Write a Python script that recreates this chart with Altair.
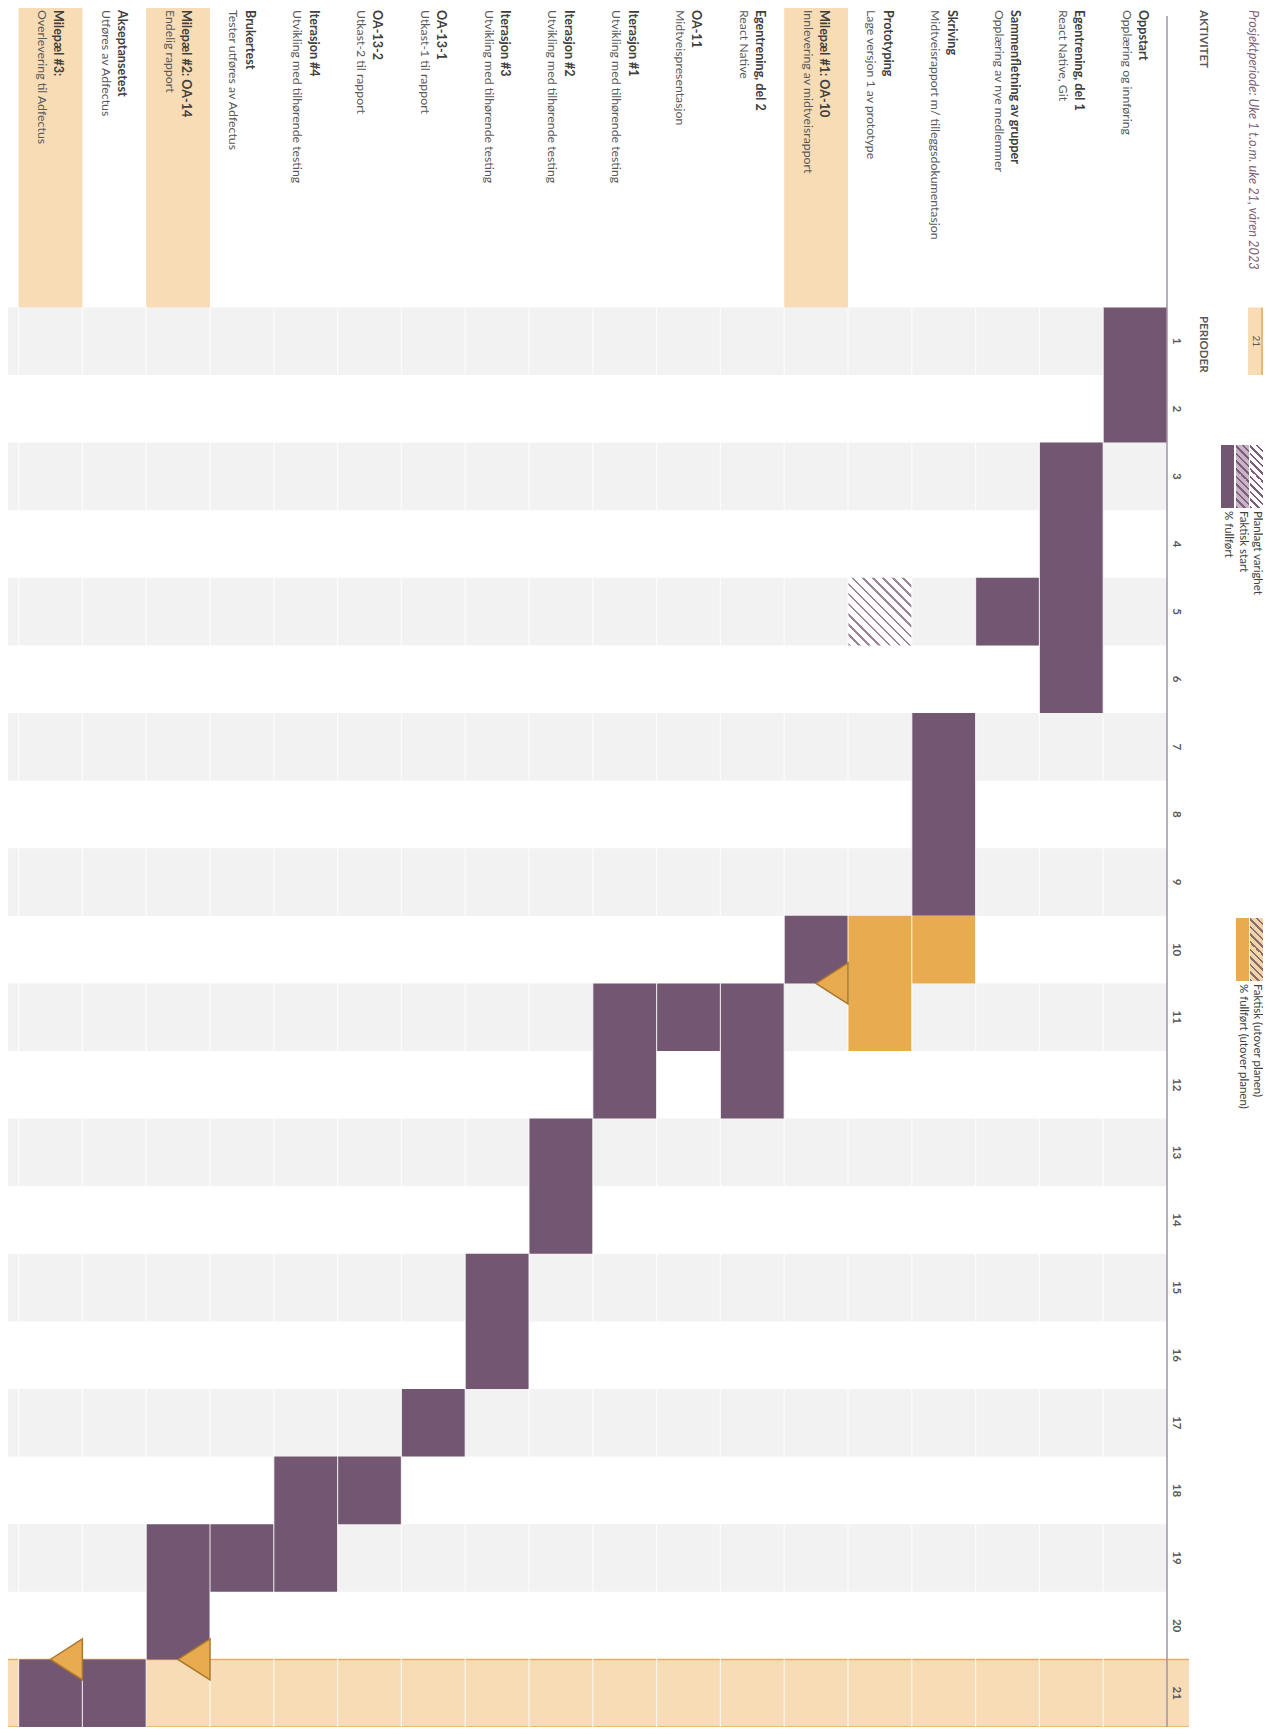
import altair as alt
import pandas as pd

# ---------------- data ----------------
activities = ["Oppstart", "Egentrening, del 1", "Sammenfletning av grupper", "Skriving", "Prototyping",
              "Milepæl #1: OA-10", "Egentrening, del 2", "OA-11", "Iterasjon #1", "Iterasjon #2",
              "Iterasjon #3", "OA-13-1", "OA-13-2", "Iterasjon #4", "Brukertest", "Milepæl #2: OA-14",
              "Akseptansetest", "Milepæl #3:"]
descriptions = ["Opplæring og innføring", "React Native, Git", "Opplæring av nye medlemmer",
                "Midtveisrapport m/ tilleggsdokumentasjon", "Lage versjon 1 av prototype",
                "Innlevering av midtveisrapport", "React Native", "Midtveispresentasjon",
                "Utvikling med tilhørende testing", "Utvikling med tilhørende testing",
                "Utvikling med tilhørende testing", "Utkast-1 til rapport", "Utkast-2 til rapport",
                "Utvikling med tilhørende testing", "Tester utføres av Adfectus", "Endelig rapport",
                "Utføres av Adfectus", "Overlevering til Adfectus"]
done_start = [1, 3, 5, 7, 0, 10, 11, 11, 11, 13, 15, 17, 18, 18, 19, 19, 21, 21]
done_length = [2, 4, 1, 3, 0, 1, 2, 1, 2, 2, 2, 1, 1, 2, 1, 2, 1, 1]
planned_activity = ["Prototyping"]
planned_start = [5]
planned_length = [1]
extra_activity = ["Skriving", "Prototyping"]
extra_start = [10, 10]
extra_length = [1, 2]
milestones = ["Milepæl #1: OA-10", "Milepæl #2: OA-14", "Milepæl #3:"]
milestone_marker = [10, 20, 20]
periods = list(range(1, 22))
current_period = 21
title_text = "Prosjektperiode: Uke 1 t.o.m. uke 21, våren 2023"
legend_main = ["Planlagt varighet", "Faktisk start", "% fullført"]
legend_extra = ["Faktisk (utover planen)", "% fullført (utover planen)"]

# ---------------- layout ----------------
W, H = 1255, 1719
COLW = 63.8
ROWH = 67.6
X0 = 1159
Y0 = H - 21 * ROWH
x_dom = [-(W - X0) / COLW, X0 / COLW]
y_dom = [-Y0 / ROWH, 21]
xs = alt.Scale(domain=x_dom, reverse=True, nice=False, zero=False)
ys = alt.Scale(domain=y_dom, reverse=True, nice=False, zero=False)
FONT = "Lato"

PURPLE = "#735671"
ORANGE = "#e9ab4f"
PEACH = "#f8dcb6"
GRAY = "#f2f2f2"


def X(f):
    return alt.X(f, type="quantitative", scale=xs, axis=None)


def Y(f):
    return alt.Y(f, type="quantitative", scale=ys, axis=None)


def hatch(w, h, bg, fg, spacing=7.0, frac=0.33):
    a = w / h
    s = (a + 1) / (a * a + 1)
    n = max(2, int(round((w + h) / 1.4142 / spacing)))
    stops = []
    for k in range(n):
        o0, om, o1 = k / n, (k + frac) / n, (k + 1) / n
        stops += [{"offset": o0, "color": fg}, {"offset": om, "color": fg},
                  {"offset": om, "color": bg}, {"offset": o1, "color": bg}]
    return {"gradient": "linear", "x1": 0, "y1": 1, "x2": s * a, "y2": 1 - s, "stops": stops}


idx = {a: i for i, a in enumerate(activities)}

bands = pd.DataFrame({"u0": [p - 1 for p in periods if p % 2 == 1 and p != current_period],
                      "u1": [p for p in periods if p % 2 == 1 and p != current_period]})
bands["c0"] = 0.0
bands["c1"] = x_dom[1]
layer_bands = alt.Chart(bands).mark_rect(color=GRAY).encode(x=X("c0"), x2="c1", y=Y("u0"), y2="u1")

cur = pd.DataFrame({"u0": [current_period - 1], "u1": [current_period],
                    "c0": [-(22 / COLW)], "c1": [x_dom[1]]})
layer_cur = alt.Chart(cur).mark_rect(color=PEACH).encode(x=X("c0"), x2="c1", y=Y("u0"), y2="u1")
cur_lines = pd.DataFrame({"u": [current_period - 1, current_period], "c0": [-(22 / COLW)] * 2,
                          "c1": [x_dom[1]] * 2})
layer_cur_lines = alt.Chart(cur_lines).mark_rule(color="#e5ad62", strokeWidth=1.5).encode(
    x=X("c0"), x2="c1", y=Y("u"))

ms = pd.DataFrame({"c0": [idx[m] for m in milestones], "c1": [idx[m] + 1 for m in milestones]})
layer_ms_head = alt.Chart(ms).mark_rect(color=PEACH).encode(
    x=X("c0"), x2="c1", y=alt.value(0), y2=alt.value(Y0))

planned = pd.DataFrame({"c0": [idx[a] for a in planned_activity], "c1": [idx[a] + 1 for a in planned_activity],
                        "u0": [s - 1 for s in planned_start],
                        "u1": [s - 1 + l for s, l in zip(planned_start, planned_length)]})
layer_planned = alt.Chart(planned).mark_rect(
    fill=hatch(COLW, ROWH, "#ffffff", "#9c849a", spacing=7.0, frac=0.26)).encode(
    x=X("c0"), x2="c1", y=Y("u0"), y2="u1")

done = pd.DataFrame({"c0": [i for i in range(len(activities)) if done_length[i] > 0],
                     "c1": [i + 1 for i in range(len(activities)) if done_length[i] > 0],
                     "u0": [done_start[i] - 1 for i in range(len(activities)) if done_length[i] > 0],
                     "u1": [done_start[i] - 1 + done_length[i] for i in range(len(activities)) if done_length[i] > 0]})
layer_done = alt.Chart(done).mark_rect(color=PURPLE).encode(x=X("c0"), x2="c1", y=Y("u0"), y2="u1")

extra = pd.DataFrame({"c0": [idx[a] for a in extra_activity], "c1": [idx[a] + 1 for a in extra_activity],
                      "u0": [s - 1 for s in extra_start],
                      "u1": [s - 1 + l for s, l in zip(extra_start, extra_length)]})
layer_extra = alt.Chart(extra).mark_rect(color=ORANGE).encode(x=X("c0"), x2="c1", y=Y("u0"), y2="u1")

seps = pd.DataFrame({"c": list(range(1, len(activities) + 1)), "u0": [0] * len(activities),
                     "u1": [21] * len(activities)})
layer_seps = alt.Chart(seps).mark_rule(color="#ffffff", strokeWidth=1.2, opacity=0.75).encode(
    x=X("c"), y=Y("u0"), y2="u1")

axis_df = pd.DataFrame({"c": [0]})
layer_axis = alt.Chart(axis_df).mark_rule(color="#a393a2", strokeWidth=1.5).encode(
    x=X("c"), y=alt.value(8), y2=alt.value(H))

tri = pd.DataFrame({"c": [idx[m] for m in milestones], "u": milestone_marker})
layer_tri = alt.Chart(tri).mark_point(shape="M0,-2.05L-3.2,0L0,2.05Z", size=400, filled=True, fill=ORANGE,
                                      stroke="#a8792f", strokeWidth=1.5, opacity=1).encode(
    x=X("c"), y=Y("u"))

titles = pd.DataFrame({"c": [i + 24 / COLW for i in range(len(activities))], "t": activities})
layer_titles = alt.Chart(titles).mark_text(angle=90, align="left", baseline="middle", font=FONT,
                                           fontSize=12.6, fontWeight="bold", color="#404040").encode(
    x=X("c"), y=alt.value(2), text="t:N")
subs = pd.DataFrame({"c": [i + 40.5 / COLW for i in range(len(activities))], "t": descriptions})
layer_subs = alt.Chart(subs).mark_text(angle=90, align="left", baseline="middle", font=FONT,
                                       fontSize=12.3, color="#595959").encode(
    x=X("c"), y=alt.value(2), text="t:N")

per = pd.DataFrame({"u": [p - 0.5 for p in periods], "t": [str(p) for p in periods]})
layer_per = alt.Chart(per).mark_text(angle=90, align="center", baseline="middle", font=FONT,
                                     fontSize=11.5, fontWeight="bold", color="#595959").encode(
    x=alt.value(1168), y=Y("u"), text="t:N")

hdr = pd.DataFrame({"t": ["AKTIVITET", "PERIODER"], "py": [2, 308]})
layer_hdr = alt.Chart(hdr).mark_text(angle=90, align="left", baseline="middle", font=FONT,
                                     fontSize=11.5, fontWeight="bold", color="#595959").encode(
    x=alt.value(1194.5), y=alt.Y("py:Q", scale=None, axis=None), text="t:N")

ttl = pd.DataFrame({"t": [title_text]})
layer_ttl = alt.Chart(ttl).mark_text(angle=90, align="left", baseline="middle", font=FONT, fontSize=12.8,
                                     fontStyle="italic", color="#7d5f7b").encode(
    x=alt.value(1245), y=alt.value(2), text="t:N")

# current period selector box
box = pd.DataFrame({"u0": [0], "u1": [1], "t": [str(current_period)]})
layer_box = alt.Chart(box).mark_rect(color=PEACH).encode(
    x=alt.value(1240), x2=alt.value(W), y=Y("u0"), y2="u1")
layer_box_line = alt.Chart(box).mark_rule(color="#e5ad62", strokeWidth=1.5).encode(
    x=alt.value(W - 1), y=Y("u0"), y2="u1")
box_t = pd.DataFrame({"u": [0.5], "t": [str(current_period)]})
layer_box_t = alt.Chart(box_t).mark_text(angle=90, align="center", baseline="middle", font=FONT,
                                         fontSize=10, color="#595959").encode(
    x=alt.value(1248), y=Y("u"), text="t:N")

# legend swatches
SW, SH = 13, 63
leg_layers = []
sw_main = [(1242, hatch(SW, SH, "#ffffff", "#7d5f7b", spacing=5.5)),
           (1228, hatch(SW, SH, "#c9b4c7", "#7d5f7b", spacing=5.5)),
           (1213, PURPLE)]
for (px, fill), lab in zip(sw_main, legend_main):
    d = pd.DataFrame({"t": [lab]})
    leg_layers.append(alt.Chart(d).mark_rect(fill=fill).encode(
        x=alt.value(px), x2=alt.value(px + SW), y=alt.value(437), y2=alt.value(437 + SH)))
    leg_layers.append(alt.Chart(d).mark_text(angle=90, align="left", baseline="middle", font=FONT,
                                             fontSize=11.5, color="#404040").encode(
        x=alt.value(px + SW / 2), y=alt.value(437 + SH + 3), text="t:N"))
sw_extra = [(1242, hatch(SW, SH, "#f3d3a8", "#8e6c6c", spacing=5.5)), (1228, ORANGE)]
for (px, fill), lab in zip(sw_extra, legend_extra):
    d = pd.DataFrame({"t": [lab]})
    leg_layers.append(alt.Chart(d).mark_rect(fill=fill).encode(
        x=alt.value(px), x2=alt.value(px + SW), y=alt.value(910), y2=alt.value(910 + SH)))
    leg_layers.append(alt.Chart(d).mark_text(angle=90, align="left", baseline="middle", font=FONT,
                                             fontSize=11.5, color="#404040").encode(
        x=alt.value(px + SW / 2), y=alt.value(910 + SH + 3), text="t:N"))

chart = alt.layer(
    layer_bands, layer_cur, layer_cur_lines, layer_ms_head, layer_planned, layer_done, layer_extra,
    layer_seps, layer_axis, layer_tri, layer_titles, layer_subs, layer_per, layer_hdr, layer_ttl,
    layer_box, layer_box_line, layer_box_t, *leg_layers
).properties(
    width=W, height=H, padding=0, autosize=alt.AutoSizeParams(type="none"), background="white"
).configure_view(stroke=None)

chart.save("out.html", embed_options={"renderer": "svg", "actions": False})
